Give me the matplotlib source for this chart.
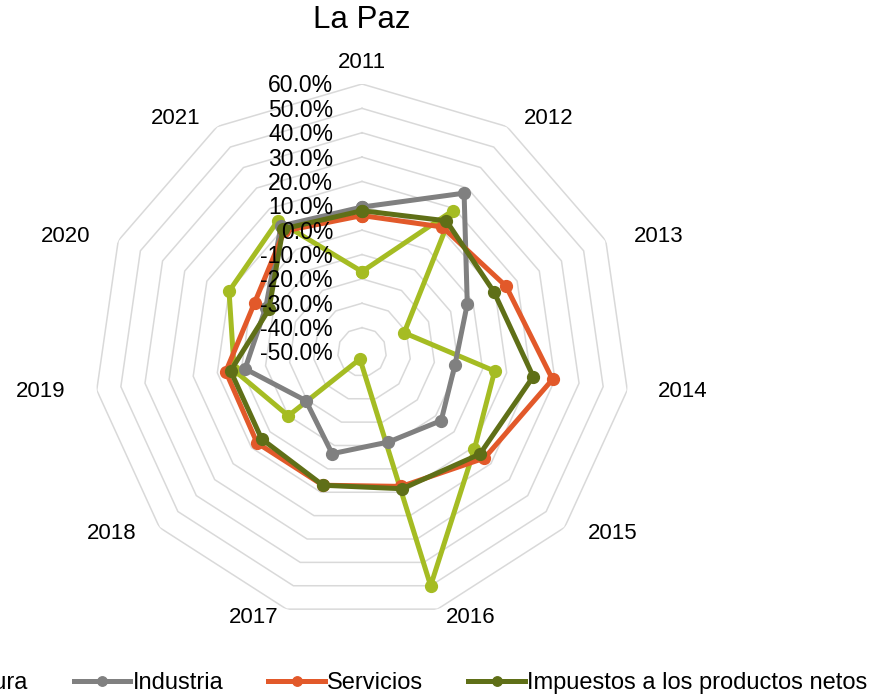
import numpy as np
import matplotlib
matplotlib.use("Agg")
import matplotlib.pyplot as plt

plt.rcParams['font.family'] = ['Liberation Sans', 'DejaVu Sans']

years = ["2011", "2012", "2013", "2014", "2015", "2016",
         "2017", "2018", "2019", "2020", "2021"]
agricultura = [-17, 19, -31, 5, 11, 50, -47, -10, 3, 10, 14]
industria = [9.5, 27.5, -2.5, -11.5, -7, -11.5, -6.5, -19.5, -1.5, -6.5, 11.5]
servicios = [6, 11, 15, 29, 16.5, 7.5, 7, 7, 6.5, -1.5, 9]
impuestos = [8, 14, 9.5, 21, 14, 8.5, 7, 4.5, 4.5, -8, 10]
ring_values = [-50, -40, -30, -20, -10, 0, 10, 20, 30, 40, 50, 60]

series = [("Agricultura", agricultura, "#A5BC23"),
          ("Industria", industria, "#808080"),
          ("Servicios", servicios, "#E2592A"),
          ("Impuestos a los productos netos", impuestos, "#5F6F17")]

n = len(years)
theta = np.arange(n) * 2 * np.pi / n
theta_closed = np.append(theta, theta[0])

fig = plt.figure(figsize=(8.72, 7), dpi=100)
ax = fig.add_axes([0.1078, 0.1143, 0.6147, 0.7657], projection='polar')
ax.set_theta_zero_location('N')
ax.set_theta_direction(-1)
ax.set_ylim(-50, 60)
ax.set_axis_off()

# polygon grid
for r in ring_values[1:]:
    ax.plot(theta_closed, [r] * (n + 1), color="#D9D9D9", lw=1.1, zorder=1)

handles = []
for name, vals, col in series:
    v = np.append(vals, vals[0])
    h, = ax.plot(theta_closed, v, color=col, lw=3.6, marker='o',
                 markersize=8.5, label=name, zorder=3)
    handles.append(h)

# radial tick labels
for r in ring_values:
    ax.annotate(f"{r:.1f}%", xy=(0, r), xytext=(-29, -2),
                textcoords='offset pixels', ha='right', va='center',
                fontsize=16.5, color='black', zorder=5, annotation_clip=False)

# category labels
for t, lab in zip(theta, years):
    s, c = np.sin(t), np.cos(t)
    if abs(s) < 1e-6:
        dx, dy = 0, 22
    else:
        dx = np.sign(s) * (24 + 32 * abs(s))
        dy = 9 * c
    ax.annotate(lab, xy=(t, 60), xytext=(dx, dy),
                textcoords='offset pixels', ha='center', va='center',
                fontsize=16, annotation_clip=False)

fig.text(0.4151, 1 - 20 / 700, "La Paz", ha='center', va='center', fontsize=22.5)

fig.legend(handles=handles, loc='center', bbox_to_anchor=(0.4151, 1 - 683 / 700),
           ncol=4, frameon=False, fontsize=17, handlelength=2.4,
           handletextpad=0.1, columnspacing=1.9, markerscale=0.8)

fig.savefig("out.png", dpi=100)
